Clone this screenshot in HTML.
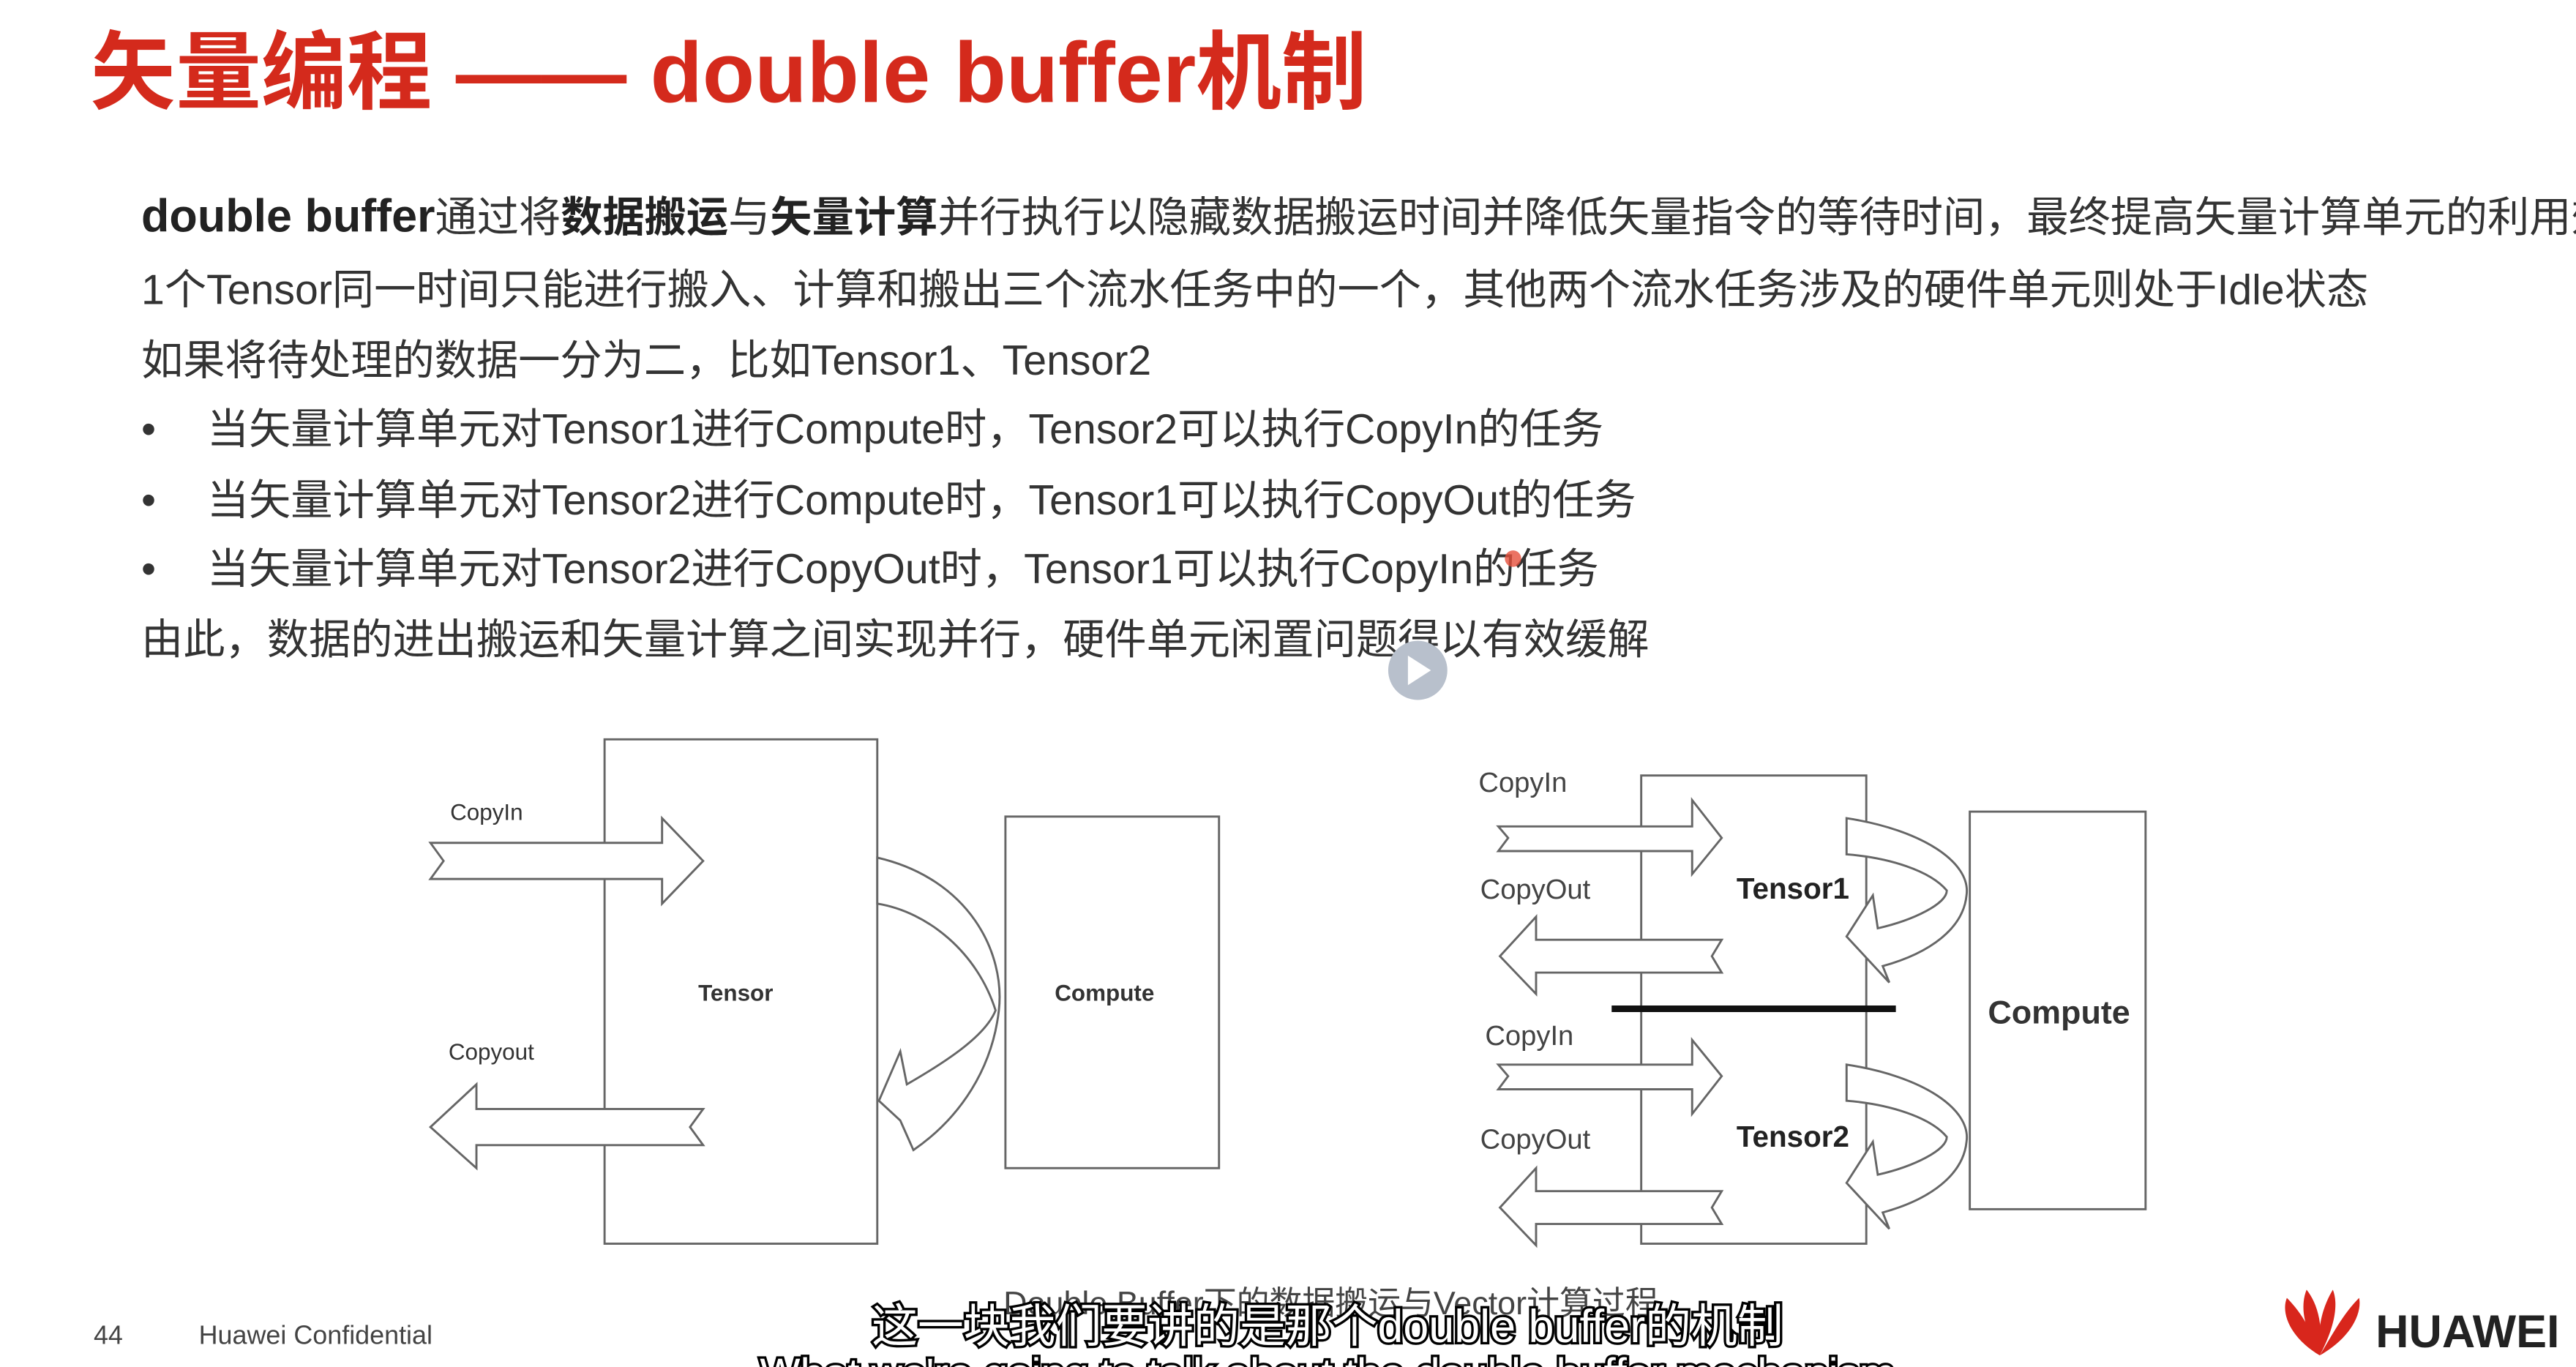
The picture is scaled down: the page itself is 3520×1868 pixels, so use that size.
<!DOCTYPE html>
<html><head><meta charset="utf-8"><style>
html,body{margin:0;padding:0;background:#fff;}
svg{display:block;}
text{font-family:"Liberation Sans","Noto Sans CJK SC",sans-serif;}
</style></head><body>
<svg width="3520" height="1868" viewBox="0 0 1568 832" xmlns="http://www.w3.org/2000/svg">
<rect width="1568" height="832" fill="#fff"/>
<text x="55" y="62" font-size="52" font-weight="bold" fill="#d42a1c">矢量编程 —— double buffer机制</text>
<g font-size="25.5" fill="#333">
<text x="86" y="141"><tspan font-weight="bold" font-size="28" fill="#222">double buffer</tspan>通过将<tspan font-weight="bold" fill="#222">数据搬运</tspan>与<tspan font-weight="bold" fill="#222">矢量计算</tspan>并行执行以隐藏数据搬运时间并降低矢量指令的等待时间，最终提高矢量计算单元的利用效率</text>
<text x="86" y="185">1个Tensor同一时间只能进行搬入、计算和搬出三个流水任务中的一个，其他两个流水任务涉及的硬件单元则处于Idle状态</text>
<text x="86" y="228">如果将待处理的数据一分为二，比如Tensor1、Tensor2</text>
<text x="86" y="270">•</text><text x="126" y="270">当矢量计算单元对Tensor1进行Compute时，Tensor2可以执行CopyIn的任务</text>
<text x="86" y="313">•</text><text x="126" y="313">当矢量计算单元对Tensor2进行Compute时，Tensor1可以执行CopyOut的任务</text>
<text x="86" y="355">•</text><text x="126" y="355">当矢量计算单元对Tensor2进行CopyOut时，Tensor1可以执行CopyIn的任务</text>
<text x="86" y="398">由此，数据的进出搬运和矢量计算之间实现并行，硬件单元闲置问题得以有效缓解</text>
</g>
<circle cx="921" cy="340" r="5" fill="#e6503c" opacity="0.8"/>
<circle cx="863" cy="408" r="18" fill="#b8c0cc"/>
<polygon points="857,399 857,417 871,408" fill="#fff"/>

<g fill="none" stroke="#666" stroke-width="1.3">
<rect x="368" y="450" width="166" height="307"/>
<rect x="612" y="497" width="130" height="214"/>
<polygon fill="#fff" points="262,513 403,513 403,498 428,524 403,550 403,535 262,535 270,524"/>
<polygon fill="#fff" points="262,686 290,660 290,675 428,675 420,686 428,697 290,697 290,711"/>
<path fill="#fff" d="M534,522 C590,535 612,580 608,615 C604,650 585,680 556,700 L548,682 L535,670 L548,640 L552,660 C578,645 600,630 606,615 C595,580 565,555 534,550 Z"/>
</g>
<g font-size="14" fill="#333">
<text x="274" y="499">CopyIn</text>
<text x="273" y="645">Copyout</text>
<text x="425" y="609" font-weight="bold">Tensor</text>
<text x="642" y="609" font-weight="bold">Compute</text>
</g>

<g fill="none" stroke="#666" stroke-width="1.3">
<rect x="999" y="472" width="137" height="285"/>
<rect x="1199" y="494" width="107" height="242"/>
<polygon fill="#fff" points="912,503 1030,503 1030,487 1048,510 1030,532 1030,518 912,518 918,510"/>
<polygon fill="#fff" points="912,648 1030,648 1030,633 1048,655 1030,678 1030,663 912,663 918,655"/>
<polygon fill="#fff" points="913,582 935,558 935,572 1048,572 1042,582 1048,592 935,592 935,605"/>
<polygon fill="#fff" points="913,735 935,711 935,725 1048,725 1042,735 1048,745 935,745 935,758"/>
<path fill="#fff" d="M1124,498 C1170,505 1200,525 1197,545 C1195,565 1175,580 1146,588 L1150,598 L1124,570 L1140,545 L1143,565 C1165,560 1185,550 1185,542 C1175,530 1150,522 1124,520 Z"/>
<path fill="#fff" d="M1124,648 C1170,655 1200,675 1197,695 C1195,715 1175,730 1146,738 L1150,748 L1124,720 L1140,695 L1143,715 C1165,710 1185,700 1185,692 C1175,680 1150,672 1124,670 Z"/>
</g>
<line x1="981" y1="614" x2="1154" y2="614" stroke="#111" stroke-width="4"/>
<g font-size="17" fill="#444">
<text x="900" y="482">CopyIn</text>
<text x="901" y="547">CopyOut</text>
<text x="904" y="636">CopyIn</text>
<text x="901" y="699">CopyOut</text>
</g>
<text x="1057" y="547" font-size="18" font-weight="bold" fill="#222">Tensor1</text>
<text x="1057" y="698" font-size="18" font-weight="bold" fill="#222">Tensor2</text>
<text x="1210" y="623" font-size="20" font-weight="bold" fill="#333">Compute</text>

<text x="810" y="800" font-size="20" fill="#444" text-anchor="middle">Double Buffer下的数据搬运与Vector计算过程</text>
<text x="808" y="817" font-size="28" fill="#fff" stroke="#000" stroke-width="3" paint-order="stroke" text-anchor="middle">这一块我们要讲的是那个double buffer的机制</text>
<text x="808" y="845" font-size="26" fill="#fff" stroke="#000" stroke-width="3" paint-order="stroke" text-anchor="middle">What we're going to talk about the double buffer mechanism</text>
<text x="57" y="818" font-size="16" fill="#444">44</text>
<text x="121" y="818" font-size="16" fill="#444">Huawei Confidential</text>
<g fill="#d8261c">
<path d="M1412,825 C1395,815 1388,800 1392,790 C1402,800 1408,812 1412,825Z"/>
<path d="M1412,825 C1402,808 1400,795 1404,785 C1412,795 1414,810 1412,825Z"/>
<path d="M1412,825 C1410,808 1414,795 1420,785 C1424,795 1420,810 1412,825Z"/>
<path d="M1412,825 C1420,812 1426,800 1436,790 C1438,800 1430,815 1412,825Z"/>
</g>
<text x="1446" y="820" font-size="28" font-weight="bold" fill="#222">HUAWEI</text>
</svg>
</body></html>
